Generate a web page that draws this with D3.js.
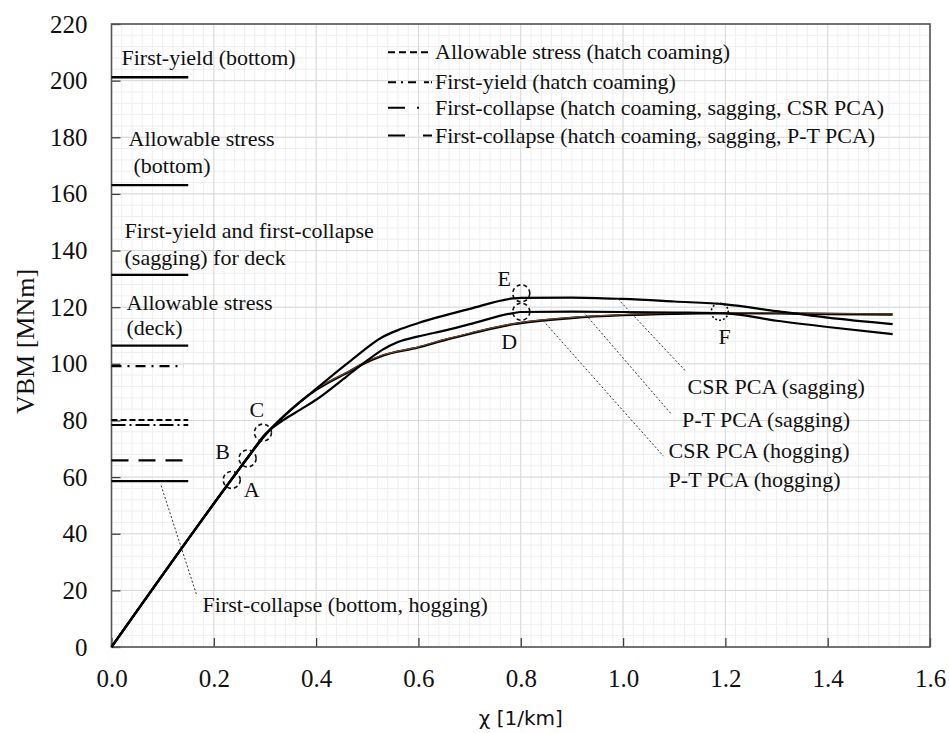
<!DOCTYPE html>
<html>
<head>
<meta charset="utf-8">
<script src="https://cdn.jsdelivr.net/npm/d3@7"></script>
<style>
  html, body { margin: 0; padding: 0; background: #fff; }
  svg { display: block; }
  .serif { font-family: "Liberation Serif", "DejaVu Serif", "Times New Roman", Times, serif; }
</style>
</head>
<body>
<svg id="chart" width="949" height="733"></svg>
<script>
// ---------------- DATA ----------------
const xTicks = [0.0, 0.2, 0.4, 0.6, 0.8, 1.0, 1.2, 1.4, 1.6];
const yTicks = [0, 20, 40, 60, 80, 100, 120, 140, 160, 180, 200, 220];

// VBM [MNm] vs curvature chi [1/km]
const csrSagging = [[0,0],[0.24,60.5],[0.27,67.8],[0.30,74.8],[0.335,81.2],[0.40,91.2],[0.466,100.9],[0.53,109.5],[0.56,111.9],[0.60,114.4],[0.70,119.4],[0.785,123.1],[0.80,123.3],[0.90,123.4],[1.00,122.9],[1.10,122.0],[1.20,121.0],[1.30,118.6],[1.40,116.3],[1.527,114.0]];
const ptSagging = [[0,0],[0.24,60.5],[0.27,67.8],[0.296,74.3],[0.335,80.0],[0.37,83.9],[0.40,87.3],[0.46,95.6],[0.50,101.2],[0.53,105.0],[0.56,107.7],[0.60,109.7],[0.655,111.9],[0.70,114.0],[0.785,117.9],[0.80,118.3],[0.90,118.4],[1.00,118.3],[1.10,118.1],[1.20,117.8],[1.30,115.2],[1.40,113.0],[1.527,110.5]];
const csrHogging = [[0,0],[0.24,60.5],[0.27,67.8],[0.30,74.8],[0.335,81.2],[0.40,90.8],[0.466,97.4],[0.49,99.8],[0.53,102.9],[0.60,105.8],[0.655,108.6],[0.70,110.6],[0.785,114.0],[0.80,114.4],[0.90,116.2],[1.00,117.2],[1.10,117.7],[1.20,117.9],[1.30,117.8],[1.40,117.6],[1.527,117.4]];
const ptHogging = [[0,0],[0.24,60.5],[0.27,67.8],[0.30,74.9],[0.335,81.4],[0.40,91.1],[0.466,97.6],[0.49,100.0],[0.53,103.1],[0.60,106.0],[0.655,108.8],[0.70,110.8],[0.785,114.2],[0.80,114.6],[0.90,116.4],[1.00,117.4],[1.10,117.9],[1.20,118.1],[1.30,118.0],[1.40,117.8],[1.527,117.6]];

// Reference levels drawn as short horizontal lines at the left (chi 0 - 0.15)
const refNames = ["First-yield (bottom)", "Allowable stress (bottom)", "First-yield and first-collapse (sagging) for deck", "Allowable stress (deck)", "First-yield (hatch coaming)", "Allowable stress (hatch coaming)", "First-collapse (hatch coaming, sagging, CSR PCA)", "First-collapse (hatch coaming, sagging, P-T PCA)", "First-collapse (bottom, hogging)"];
const refValues = [201.2, 163.1, 131.4, 106.4, 99.2, 80.2, 78.4, 65.9, 58.6];
const refChiEnd = 0.15;

// Marked points
const markerLabels = ["A", "B", "C", "D", "E", "F"];
const markerChi = [0.235, 0.266, 0.296, 0.801, 0.801, 1.189];
const markerVBM = [59.0, 66.6, 75.7, 118.4, 124.9, 118.4];

// Legend entries (hatch coaming levels)
const legendLabels = ["Allowable stress (hatch coaming)", "First-yield (hatch coaming)", "First-collapse (hatch coaming, sagging, CSR PCA)", "First-collapse (hatch coaming, sagging, P-T PCA)"];

// Curve labels with pointer lines
const curveLabels = ["CSR PCA (sagging)", "P-T PCA (sagging)", "CSR PCA (hogging)", "P-T PCA (hogging)"];

// ---------------- CHART ----------------
const svg = d3.select("#chart");
const W = 949, H = 733;
const m = { left: 111.5, right: 19, top: 24, bottom: 86 };
const x = d3.scaleLinear().domain([0, 1.6]).range([m.left, W - m.right]);
const y = d3.scaleLinear().domain([0, 220]).range([H - m.bottom, m.top]);

// minor grid
const xMinor = d3.range(0, 1.6001, 0.02);
const yMinor = d3.range(0, 220.001, 4);
const g = svg.append("g");
g.selectAll("line.xm").data(xMinor).join("line")
  .attr("x1", d => x(d)).attr("x2", d => x(d)).attr("y1", y(0)).attr("y2", y(220))
  .attr("stroke", "#efefef").attr("stroke-width", 1);
g.selectAll("line.ym").data(yMinor).join("line")
  .attr("y1", d => y(d)).attr("y2", d => y(d)).attr("x1", x(0)).attr("x2", x(1.6))
  .attr("stroke", "#efefef").attr("stroke-width", 1);
// major grid
g.selectAll("line.xg").data(xTicks).join("line")
  .attr("x1", d => x(d)).attr("x2", d => x(d)).attr("y1", y(0)).attr("y2", y(220))
  .attr("stroke", "#d9d9d9").attr("stroke-width", 1);
g.selectAll("line.yg").data(yTicks).join("line")
  .attr("y1", d => y(d)).attr("y2", d => y(d)).attr("x1", x(0)).attr("x2", x(1.6))
  .attr("stroke", "#d9d9d9").attr("stroke-width", 1);

// axes
const xAxis = d3.axisBottom(x).tickValues(xTicks).tickFormat(d3.format(".1f")).tickSizeInner(-9).tickSizeOuter(0).tickPadding(22);
const yAxis = d3.axisLeft(y).tickValues(yTicks).tickFormat(d3.format("d")).tickSizeInner(-9).tickSizeOuter(0).tickPadding(24);
const gx = svg.append("g").attr("transform", `translate(0,${y(0)})`).call(xAxis);
const gy = svg.append("g").attr("transform", `translate(${x(0)},0)`).call(yAxis);
[gx, gy].forEach(a => {
  a.attr("font-family", null).attr("font-size", null);
  a.select(".domain").remove();
  a.selectAll(".tick line").attr("stroke", "#404040").attr("stroke-width", 1.3);
  a.selectAll(".tick text").attr("class", "serif").style("font-size", "25px").attr("fill", "#111");
});
gx.selectAll(".tick text").attr("dy", "0.71em");
// frame
svg.append("rect").attr("x", x(0)).attr("y", y(220)).attr("width", x(1.6) - x(0)).attr("height", y(0) - y(220))
  .attr("fill", "none").attr("stroke", "#555").attr("stroke-width", 1.6);

// axis titles
svg.append("text").attr("x", (x(0) + x(1.6)) / 2).attr("y", 725).attr("text-anchor", "middle")
  .style("font-family", "'DejaVu Sans', sans-serif").style("font-size", "20px").attr("fill", "#111").text("χ [1/km]");
svg.append("text").attr("class", "serif").attr("transform", `translate(34,${(y(0) + y(220)) / 2 + 6}) rotate(-90)`).attr("text-anchor", "middle")
  .style("font-size", "26px").attr("fill", "#111").text("VBM [MNm]");

// reference level lines
const refDash = [null, null, null, null, "10,6,2,6", "6,3", "14,4,2,4", "17,10", null];
const refWidth = [2.4, 2.2, 2.2, 2.2, 2.2, 2.0, 2.0, 2.2, 2.2];
svg.append("g").selectAll("line").data(refValues).join("line")
  .attr("x1", x(0)).attr("x2", (d, i) => i === 4 ? x(refChiEnd * 0.94) : x(refChiEnd))
  .attr("y1", d => y(d)).attr("y2", d => y(d))
  .attr("stroke", "#000").attr("stroke-width", (d, i) => refWidth[i])
  .attr("stroke-dasharray", (d, i) => refDash[i]);

// reference level text
const annot = svg.append("g").attr("class", "serif").style("font-size", "22px").attr("fill", "#111");
const refText = [
  { lines: ["First-yield (bottom)"], lvl: 0, dx: [10], dy: [-12] },
  { lines: ["Allowable stress", "(bottom)"], lvl: 1, dx: [17, 22], dy: [-39, -12] },
  { lines: ["First-yield and first-collapse", "(sagging) for deck"], lvl: 2, dx: [13, 13], dy: [-37, -10] },
  { lines: ["Allowable stress", "(deck)"], lvl: 3, dx: [15, 15], dy: [-36, -11] }
];
refText.forEach(t => {
  t.lines.forEach((s, k) => {
    annot.append("text").attr("x", x(0) + t.dx[k]).attr("y", y(refValues[t.lvl]) + t.dy[k]).text(s);
  });
});
// First-collapse (bottom, hogging) label + pointer
svg.append("line").attr("x1", x(0.097)).attr("y1", y(57.0)).attr("x2", x(0.166)).attr("y2", y(18.6))
  .attr("stroke", "#333").attr("stroke-width", 1).attr("stroke-dasharray", "2,2");
annot.append("text").attr("x", x(0.178)).attr("y", y(12.5)).text(refNames[8]);

// curves
const line = d3.line().x(d => x(d[0])).y(d => y(d[1])).curve(d3.curveMonotoneX);
const curves = svg.append("g").attr("fill", "none");
curves.append("path").datum(csrHogging).attr("d", line).attr("stroke", "#000").attr("stroke-width", 2.4);
curves.append("path").datum(ptHogging).attr("d", line).attr("stroke", "#6e4424").attr("stroke-width", 1.2);
curves.append("path").datum(ptSagging).attr("d", line).attr("stroke", "#000").attr("stroke-width", 2.2);
curves.append("path").datum(csrSagging).attr("d", line).attr("stroke", "#000").attr("stroke-width", 2.2);

// markers
const mk = svg.append("g");
mk.selectAll("circle").data(markerLabels).join("circle")
  .attr("cx", (d, i) => x(markerChi[i])).attr("cy", (d, i) => y(markerVBM[i])).attr("r", 8.5)
  .attr("fill", "none").attr("stroke", "#111").attr("stroke-width", 1.6).attr("stroke-dasharray", (d, i) => i === 5 ? "2,2" : "4,3");
const mOff = [[20, 10], [-25, -7], [-6, -23], [-12, 30], [-17, -15], [5, 25]];
mk.selectAll("text").data(markerLabels).join("text")
  .attr("class", "serif")
  .attr("x", (d, i) => x(markerChi[i]) + mOff[i][0]).attr("y", (d, i) => y(markerVBM[i]) + mOff[i][1])
  .attr("text-anchor", "middle").attr("dominant-baseline", "central")
  .style("font-size", "22px").attr("fill", "#111").text(d => d);

// curve labels with pointers
const ptrFrom = [[0.99, 122.9], [0.922, 118.4], [0.844, 115.2]];
const ptrTo = [[1.123, 97.3], [1.095, 82.1], [1.079, 67.4]];
const lblPos = [[1.126, 89.3], [1.115, 77.8], [1.089, 66.9], [1.089, 56.6]];
ptrFrom.forEach((p, i) => {
  svg.append("line").attr("x1", x(p[0])).attr("y1", y(p[1])).attr("x2", x(ptrTo[i][0])).attr("y2", y(ptrTo[i][1]))
    .attr("stroke", "#333").attr("stroke-width", 1).attr("stroke-dasharray", "2,2");
});
curveLabels.forEach((s, i) => {
  annot.append("text").attr("x", x(lblPos[i][0])).attr("y", y(lblPos[i][1])).text(s);
});

// legend
const lg = svg.append("g");
const legDash = ["7,4", "8,5,2,5,8", "17,12,2,20", "17,18,9"];
const legY = [51.7, 81.7, 107.3, 135];
legendLabels.forEach((s, i) => {
  lg.append("line").attr("x1", 388).attr("x2", 432).attr("y1", legY[i] + 0.5).attr("y2", legY[i] + 0.5)
    .attr("stroke", "#000").attr("stroke-width", 2).attr("stroke-dasharray", legDash[i]);
  lg.append("text").attr("class", "serif").attr("x", 435).attr("y", legY[i]).attr("dominant-baseline", "central")
    .style("font-size", "22px").attr("fill", "#111").text(s);
});
</script>
</body>
</html>
